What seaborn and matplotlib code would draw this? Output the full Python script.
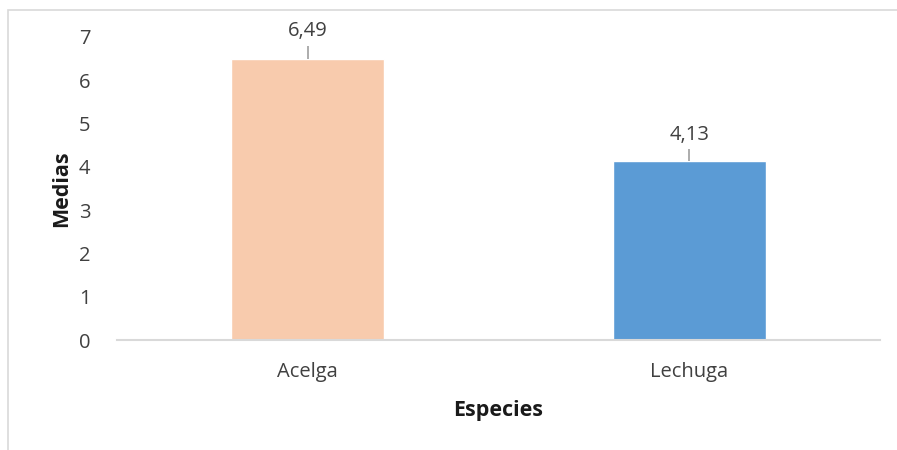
import matplotlib
matplotlib.use("Agg")
import matplotlib.pyplot as plt
import seaborn as sns
import pandas as pd
from matplotlib.patches import Rectangle

# Data
especies = ["Acelga", "Lechuga"]
medias = [6.49, 4.13]
errores = [0.31, 0.29]
colores = ["#F8CBAD", "#5B9BD5"]
yticks = [0, 1, 2, 3, 4, 5, 6, 7]

sns.set_theme(style="white")
plt.rcParams["font.family"] = ["Open Sans", "DejaVu Sans"]

df = pd.DataFrame({"Especies": especies, "Medias": medias})

fig = plt.figure(figsize=(8.97, 4.5), dpi=100)
ax = fig.add_axes([117 / 897, 1 - 340 / 450, (880 - 117) / 897, (340 - 37) / 450])

sns.barplot(data=df, x="Especies", y="Medias", hue="Especies",
            palette=colores, width=0.40, errorbar=None, legend=False,
            saturation=1, ax=ax)

# Upper-only error bars and value labels
for i, (m, e) in enumerate(zip(medias, errores)):
    ax.errorbar(i, m, yerr=[[0], [e]], fmt="none", ecolor="#A6A6A6",
                elinewidth=1.3, capsize=0, clip_on=False, zorder=3)
    ax.annotate(f"{m:.2f}".replace(".", ","), xy=(i, m + e),
                xytext=(0, 3), textcoords="offset points",
                ha="center", va="bottom", fontsize=14.5, color="#404040",
                annotation_clip=False)

ax.set_ylim(0, 7)
ax.set_xlim(-0.5, 1.5)
ax.set_yticks(yticks)
ax.set_yticklabels([str(t) for t in yticks])

ax.tick_params(axis="y", length=0, pad=19, labelsize=14.5, labelcolor="#404040")
ax.tick_params(axis="x", length=0, pad=16, labelsize=14.5, labelcolor="#404040")

ax.set_ylabel("Medias", fontsize=15.5, fontweight="bold", color="#1a1a1a", labelpad=5)
ax.set_xlabel("Especies", fontsize=15.5, fontweight="bold", color="#1a1a1a", labelpad=13)

for side in ["top", "right", "left"]:
    ax.spines[side].set_visible(False)
ax.spines["bottom"].set_color("#D9D9D9")
ax.spines["bottom"].set_linewidth(1.5)

# Chart area border
fig.patches.append(Rectangle((8 / 897, -0.1), 1.2, 1 - 10 / 450 + 0.1,
                             transform=fig.transFigure, fill=False,
                             edgecolor="#D9D9D9", linewidth=1.2))

fig.savefig("out.png", dpi=100)
